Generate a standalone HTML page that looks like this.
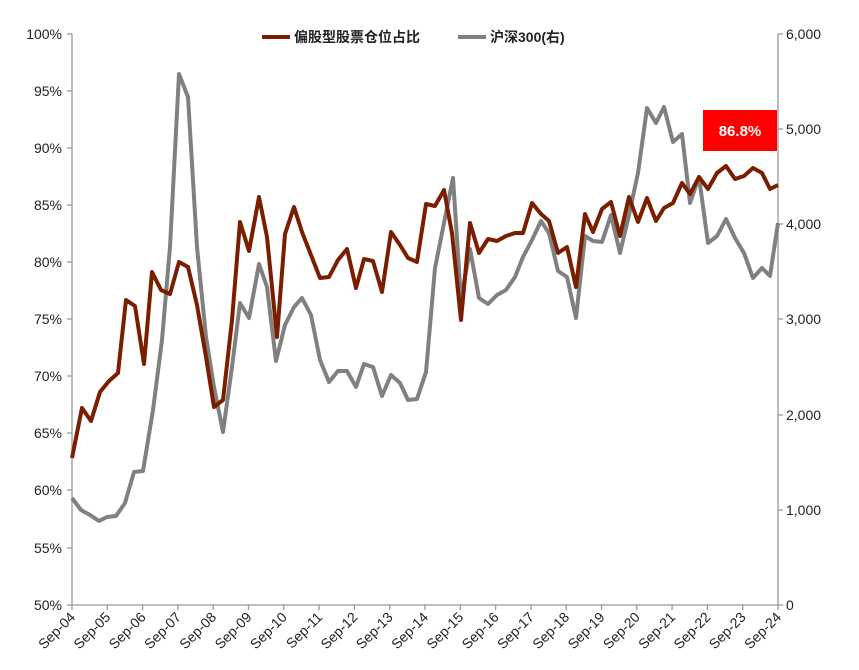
<!DOCTYPE html>
<html><head><meta charset="utf-8"><style>
html,body{margin:0;padding:0;background:#fff;}
svg{display:block;font-family:"Liberation Sans","Noto Sans CJK SC",sans-serif;}
</style></head><body>
<svg width="859" height="670" viewBox="0 0 859 670">
<g stroke="#999" stroke-width="1.3" fill="none">
<line x1="72" y1="34" x2="72" y2="605"/>
<line x1="778" y1="34" x2="778" y2="605"/>
<line x1="72" y1="605" x2="778" y2="605"/>
</g>
<g stroke="#999" stroke-width="1.3">
<line x1="67" y1="34" x2="72" y2="34"/><line x1="67" y1="91" x2="72" y2="91"/><line x1="67" y1="148" x2="72" y2="148"/><line x1="67" y1="205" x2="72" y2="205"/><line x1="67" y1="262" x2="72" y2="262"/><line x1="67" y1="319" x2="72" y2="319"/><line x1="67" y1="376" x2="72" y2="376"/><line x1="67" y1="433" x2="72" y2="433"/><line x1="67" y1="490" x2="72" y2="490"/><line x1="67" y1="548" x2="72" y2="548"/><line x1="67" y1="605" x2="72" y2="605"/>
<line x1="778" y1="34" x2="783" y2="34"/><line x1="778" y1="129" x2="783" y2="129"/><line x1="778" y1="224" x2="783" y2="224"/><line x1="778" y1="319" x2="783" y2="319"/><line x1="778" y1="415" x2="783" y2="415"/><line x1="778" y1="510" x2="783" y2="510"/><line x1="778" y1="605" x2="783" y2="605"/>
<line x1="72" y1="605" x2="72" y2="610"/><line x1="107.3" y1="605" x2="107.3" y2="610"/><line x1="142.6" y1="605" x2="142.6" y2="610"/><line x1="177.9" y1="605" x2="177.9" y2="610"/><line x1="213.2" y1="605" x2="213.2" y2="610"/><line x1="248.5" y1="605" x2="248.5" y2="610"/><line x1="283.8" y1="605" x2="283.8" y2="610"/><line x1="319.1" y1="605" x2="319.1" y2="610"/><line x1="354.4" y1="605" x2="354.4" y2="610"/><line x1="389.7" y1="605" x2="389.7" y2="610"/><line x1="425" y1="605" x2="425" y2="610"/><line x1="460.3" y1="605" x2="460.3" y2="610"/><line x1="495.6" y1="605" x2="495.6" y2="610"/><line x1="530.9" y1="605" x2="530.9" y2="610"/><line x1="566.2" y1="605" x2="566.2" y2="610"/><line x1="601.5" y1="605" x2="601.5" y2="610"/><line x1="636.8" y1="605" x2="636.8" y2="610"/><line x1="672.1" y1="605" x2="672.1" y2="610"/><line x1="707.4" y1="605" x2="707.4" y2="610"/><line x1="742.7" y1="605" x2="742.7" y2="610"/><line x1="778" y1="605" x2="778" y2="610"/>
</g>
<g font-size="14" fill="#222" text-anchor="end">
<text x="62" y="39">100%</text><text x="62" y="96">95%</text><text x="62" y="153">90%</text><text x="62" y="210">85%</text><text x="62" y="267">80%</text><text x="62" y="324">75%</text><text x="62" y="381">70%</text><text x="62" y="438">65%</text><text x="62" y="495">60%</text><text x="62" y="553">55%</text><text x="62" y="610">50%</text>
</g>
<g font-size="14" fill="#222">
<text x="786" y="39">6,000</text><text x="786" y="134">5,000</text><text x="786" y="229">4,000</text><text x="786" y="324">3,000</text><text x="786" y="420">2,000</text><text x="786" y="515">1,000</text><text x="786" y="610">0</text>
</g>
<g font-size="14" fill="#222" text-anchor="end">
<text transform="translate(76,618) rotate(-45)">Sep-04</text>
<text transform="translate(111.3,618) rotate(-45)">Sep-05</text>
<text transform="translate(146.6,618) rotate(-45)">Sep-06</text>
<text transform="translate(181.9,618) rotate(-45)">Sep-07</text>
<text transform="translate(217.2,618) rotate(-45)">Sep-08</text>
<text transform="translate(252.5,618) rotate(-45)">Sep-09</text>
<text transform="translate(287.8,618) rotate(-45)">Sep-10</text>
<text transform="translate(323.1,618) rotate(-45)">Sep-11</text>
<text transform="translate(358.4,618) rotate(-45)">Sep-12</text>
<text transform="translate(393.7,618) rotate(-45)">Sep-13</text>
<text transform="translate(429,618) rotate(-45)">Sep-14</text>
<text transform="translate(464.3,618) rotate(-45)">Sep-15</text>
<text transform="translate(499.6,618) rotate(-45)">Sep-16</text>
<text transform="translate(534.9,618) rotate(-45)">Sep-17</text>
<text transform="translate(570.2,618) rotate(-45)">Sep-18</text>
<text transform="translate(605.5,618) rotate(-45)">Sep-19</text>
<text transform="translate(640.8,618) rotate(-45)">Sep-20</text>
<text transform="translate(676.1,618) rotate(-45)">Sep-21</text>
<text transform="translate(711.4,618) rotate(-45)">Sep-22</text>
<text transform="translate(746.7,618) rotate(-45)">Sep-23</text>
<text transform="translate(782,618) rotate(-45)">Sep-24</text>
</g>
<polyline fill="none" stroke="#808080" stroke-width="4" stroke-linejoin="round" points="72,498 81,510 90,515 99,521 107,517 116,516 125,503 134,472 143,471 153,410 162,340 170,247 179,74 188,97 197,247 206,337 214,387 223,432 232,367 240,303 249,318 259,264 267,287 276,361 285,325 294,307 302,298 311,315 320,360 329,382 338,371 347,371 356,387 364,364 373,367 382,396 391,375 400,383 408,400 417,399 426,372 435,268 444,223 453,178 461,300 470,249 479,298 488,304 497,295 506,290 515,277 523,257 532,240 541,221 549,233 558,271 567,277 576,318 585,236 593,241 602,242 611,215 620,253 629,215 638,173 647,108 656,123 664,107 673,142 682,134 690,203 699,177 708,243 717,236 726,219 735,238 744,253 753,278 762,268 770,276 778,223"/>
<polyline fill="none" stroke="#7a1e00" stroke-width="4" stroke-linejoin="round" points="72,458 82,408 91,421 100,392 109,381 118,373 126,300 135,306 144,364 152,272 161,290 170,294 179,262 188,267 197,305 206,357 214,407 223,400 232,320 240,222 249,251 259,197 267,237 277,337 285,234 294,207 302,232 311,255 320,278 329,277 338,260 347,249 356,288 364,259 373,261 382,292 391,232 400,245 408,258 417,262 426,204 435,206 444,190 452,233 461,320 470,223 479,253 488,239 497,241 506,236 515,233 523,233 532,203 541,214 549,221 558,253 567,247 576,287 585,214 593,232 602,209 611,202 620,236 629,197 638,222 647,198 656,221 664,208 673,203 682,183 690,194 699,177 708,189 717,173 726,166 735,179 744,176 753,168 762,173 770,189 778,185"/>
<rect x="703" y="110" width="74" height="41" fill="#ff0000"/>
<text x="740" y="136" font-size="15" font-weight="bold" fill="#fff" text-anchor="middle">86.8%</text>
<line x1="262" y1="37" x2="290" y2="37" stroke="#7a1e00" stroke-width="4"/>
<text x="294" y="42" font-size="14" font-weight="bold" fill="#222">偏股型股票仓位占比</text>
<line x1="458" y1="37" x2="486" y2="37" stroke="#808080" stroke-width="4"/>
<text x="490" y="42" font-size="14" font-weight="bold" fill="#222">沪深300(右)</text>
</svg>
</body></html>
